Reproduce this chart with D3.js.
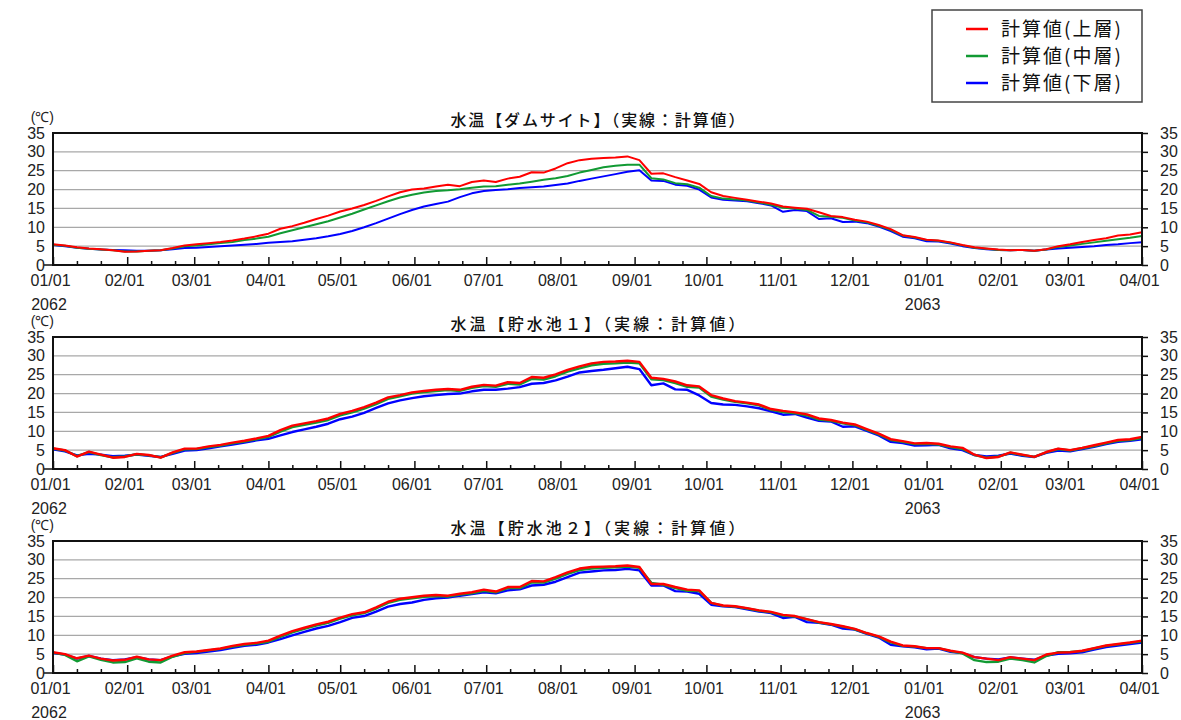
<!DOCTYPE html>
<html>
<head>
<meta charset="utf-8">
<script src="https://cdn.jsdelivr.net/npm/d3@7"></script>
<style>
  html, body { margin: 0; padding: 0; background: #fff; }
  svg { display: block; }
  .num { font-family: "Liberation Sans", Arial, sans-serif; font-size: 16px; fill: #222; }
  .jp { font-family: "Noto Sans CJK JP", sans-serif; fill: #111; }
</style>
</head>
<body>
<svg id="chart" width="1181" height="720"></svg>
<script>
// Sampling: one value every 5 days from 2062-01-01 through 2063-04-01
const startDate = Date.UTC(2062, 0, 1);
const endDate = Date.UTC(2063, 3, 1);
const stepDays = 5;

const seriesNames = ["計算値(上層)", "計算値(中層)", "計算値(下層)"];
const seriesColors = ["#ff0000", "#119a33", "#0000ff"];
const panelTitles = [
  "水温【ダムサイト】（実線：計算値）",
  "水温【貯水池１】（実線：計算値）",
  "水温【貯水池２】（実線：計算値）"
];
const yTicks = [0, 5, 10, 15, 20, 25, 30, 35];
const yearLabels = [{ date: Date.UTC(2062, 0, 1), text: "2062" }, { date: Date.UTC(2063, 0, 1), text: "2063" }];

// ダムサイト
const damUpper = [5.5,5.2,4.7,4.4,4.2,3.9,3.5,3.6,3.8,3.9,4.5,5.2,5.5,5.8,6.1,6.5,7.0,7.6,8.3,9.6,
  10.3,11.2,12.2,13.1,14.2,15.0,15.9,17.0,18.2,19.3,20.0,20.3,20.8,21.3,20.9,22.0,22.4,22.0,22.9,23.4,
  24.6,24.5,25.6,27.0,27.8,28.2,28.4,28.5,28.8,27.8,24.2,24.3,23.3,22.4,21.5,19.3,18.3,17.8,17.3,16.8,
  16.3,15.5,15.2,14.9,14.0,13.0,12.7,12.0,11.5,10.6,9.5,7.9,7.4,6.7,6.5,6.0,5.3,4.7,4.4,4.1,
  3.9,4.0,3.8,4.2,5.0,5.5,6.1,6.6,7.1,7.8,8.1,8.7];
const damMiddle = [5.4,5.1,4.6,4.3,4.1,3.9,3.6,3.6,3.8,3.9,4.4,5.0,5.2,5.5,5.8,6.1,6.6,7.0,7.5,8.4,
  9.2,10.0,10.8,11.6,12.6,13.6,14.7,15.8,16.9,17.9,18.6,19.2,19.6,19.8,20.1,20.5,20.8,20.9,21.3,21.6,
  22.1,22.6,23.0,23.6,24.5,25.2,25.9,26.3,26.6,26.6,23.0,22.7,21.7,21.4,20.5,18.3,17.6,17.4,17.1,16.6,
  16.0,15.2,15.0,14.6,13.0,12.8,12.5,11.8,11.3,10.4,9.3,7.8,7.3,6.6,6.4,5.9,5.2,4.6,4.3,4.0,
  3.9,4.0,3.8,4.1,4.8,5.2,5.6,6.0,6.4,6.8,7.2,7.7];
const damLower = [5.3,5.0,4.6,4.3,4.1,4.0,3.9,3.8,3.8,3.9,4.2,4.5,4.6,4.8,5.0,5.2,5.4,5.6,5.9,6.1,
  6.3,6.7,7.1,7.6,8.2,9.0,10.0,11.1,12.3,13.5,14.6,15.5,16.2,16.8,18.0,19.0,19.6,19.9,20.1,20.4,
  20.6,20.8,21.2,21.6,22.3,22.9,23.5,24.1,24.7,25.1,22.4,22.3,21.3,21.0,20.0,17.9,17.3,17.1,16.9,16.4,
  15.8,14.1,14.6,14.3,12.2,12.4,11.4,11.5,11.1,10.2,9.0,7.5,7.1,6.3,6.2,5.7,5.0,4.5,4.2,4.0,
  3.9,4.0,3.8,4.1,4.4,4.6,4.8,5.0,5.3,5.5,5.8,6.0];

// 貯水池１
const res1Upper = [5.5,5.0,3.3,4.6,3.8,3.0,3.2,4.0,3.7,3.0,4.4,5.4,5.4,6.0,6.4,7.0,7.5,8.1,8.8,10.3,
  11.5,12.1,12.7,13.4,14.6,15.4,16.4,17.6,19.0,19.6,20.3,20.7,21.0,21.2,21.0,21.8,22.3,22.1,23.0,22.8,
  24.4,24.2,25.1,26.3,27.2,28.0,28.4,28.5,28.7,28.4,24.2,23.9,23.2,22.2,21.9,19.6,18.7,18.0,17.6,17.1,
  15.9,15.4,15.0,14.5,13.4,13.0,12.3,11.8,10.6,9.4,7.9,7.4,6.8,6.9,6.7,6.0,5.6,3.8,2.9,3.2,
  4.4,3.8,3.2,4.5,5.4,5.0,5.6,6.3,7.0,7.7,7.9,8.5];
const res1Middle = [5.4,4.9,3.4,4.5,3.7,3.1,3.3,3.9,3.6,3.1,4.3,5.2,5.3,5.8,6.2,6.8,7.3,7.9,8.5,9.9,
  11.1,11.7,12.3,13.0,14.2,15.0,16.0,17.2,18.6,19.3,20.0,20.4,20.7,20.9,20.7,21.5,22.0,21.8,22.6,22.4,
  23.9,23.7,24.6,25.8,26.7,27.5,27.9,28.0,28.2,28.0,23.8,23.6,22.8,21.8,21.6,19.2,18.4,17.8,17.4,16.9,
  15.7,15.1,14.8,14.2,13.1,12.8,12.1,11.6,10.4,9.2,7.7,7.2,6.6,6.7,6.5,5.8,5.3,3.7,3.0,3.3,
  4.3,3.7,3.2,4.4,5.3,4.9,5.5,6.1,6.8,7.5,7.7,8.2];
const res1Lower = [5.2,4.7,3.6,4.0,3.8,3.4,3.5,3.8,3.5,3.2,4.0,4.9,5.0,5.5,6.0,6.5,7.0,7.6,8.0,8.9,
  9.8,10.5,11.2,12.0,13.2,13.9,14.9,16.2,17.4,18.2,18.8,19.3,19.6,19.9,20.0,20.6,21.0,21.0,21.3,21.7,
  22.6,22.8,23.5,24.5,25.6,26.0,26.3,26.7,27.1,26.5,22.2,22.7,21.1,21.0,19.5,17.5,17.1,17.0,16.6,16.1,
  15.3,14.4,14.6,13.6,12.8,12.6,11.2,11.3,10.1,8.9,7.2,6.9,6.2,6.3,6.4,5.5,5.0,3.7,3.3,3.5,
  4.1,3.5,3.2,4.3,4.9,4.7,5.3,5.9,6.6,7.2,7.5,7.9];

// 貯水池２
const res2Upper = [5.5,5.0,3.9,4.6,3.8,3.3,3.5,4.3,3.6,3.4,4.6,5.5,5.7,6.1,6.5,7.2,7.7,8.0,8.6,9.9,
  11.1,12.0,12.9,13.6,14.7,15.6,16.1,17.4,18.9,19.7,20.1,20.5,20.7,20.5,21.0,21.4,22.1,21.6,22.8,22.8,
  24.4,24.3,25.4,26.7,27.7,28.1,28.2,28.3,28.5,28.1,23.6,23.6,22.8,22.1,21.9,18.6,17.9,17.7,17.2,16.6,
  16.2,15.4,15.1,14.3,13.5,13.0,12.4,11.7,10.6,9.7,8.3,7.3,7.1,6.6,6.6,5.9,5.4,4.2,3.8,3.4,
  4.2,3.8,3.4,4.9,5.4,5.5,5.9,6.6,7.3,7.7,8.1,8.6];
const res2Middle = [5.4,4.8,3.1,4.4,3.5,2.8,2.9,3.9,3.0,2.8,4.3,5.3,5.6,6.0,6.4,7.0,7.5,7.8,8.3,9.6,
  10.8,11.7,12.6,13.3,14.4,15.3,15.9,17.1,18.6,19.4,19.8,20.2,20.4,20.3,20.8,21.1,21.8,21.4,22.5,22.5,
  24.0,24.0,25.0,26.3,27.3,27.7,27.9,28.0,28.2,27.9,23.9,23.4,22.5,21.8,21.7,18.6,17.8,17.6,17.1,16.5,
  16.1,15.2,15.0,14.2,13.4,12.9,12.3,11.6,10.5,9.6,8.1,7.2,7.0,6.6,6.6,5.8,5.2,3.4,2.9,3.0,
  3.8,3.4,2.8,4.5,5.5,5.6,5.8,6.5,7.2,7.6,8.0,8.4];
const res2Lower = [5.3,4.9,3.8,4.5,3.8,3.4,3.6,4.2,3.6,3.4,4.4,5.1,5.3,5.7,6.1,6.7,7.2,7.5,8.1,9.0,
  10.0,10.9,11.8,12.5,13.5,14.6,15.1,16.3,17.6,18.3,18.7,19.4,19.8,20.0,20.5,20.9,21.4,21.1,21.9,22.2,
  23.2,23.4,24.2,25.4,26.6,26.9,27.2,27.3,27.6,27.2,23.2,23.2,21.7,21.6,21.0,18.1,17.7,17.5,16.9,16.3,
  15.9,14.6,14.9,13.5,13.3,12.8,11.8,11.5,10.4,9.4,7.5,7.1,6.8,6.3,6.5,5.6,5.3,4.2,3.8,3.6,
  4.1,3.8,3.5,4.6,5.1,5.2,5.5,6.2,6.9,7.3,7.7,8.1];

const panelSeries = [
  [damUpper, damMiddle, damLower],
  [res1Upper, res1Middle, res1Lower],
  [res2Upper, res2Middle, res2Lower]
];

// ---- layout ----
const plotLeft = 53, plotRight = 1142;
const panelTops = [133, 337, 541];
const plotHeight = 132;
const dayMs = 86400000;

const svg = d3.select("#chart");
const x = d3.scaleUtc().domain([startDate, endDate]).range([plotLeft, plotRight]);

function sampleDate(i) { return new Date(startDate + i * stepDays * dayMs); }

panelTops.forEach((top, p) => {
  const bottom = top + plotHeight;
  const y = d3.scaleLinear().domain([0, 35]).range([bottom, top]);
  const g = svg.append("g");

  // horizontal grid
  g.selectAll("line.grid").data(yTicks.filter(t => t > 0 && t < 35)).join("line")
    .attr("x1", plotLeft).attr("x2", plotRight)
    .attr("y1", d => y(d)).attr("y2", d => y(d))
    .attr("stroke", "#a8a8a8").attr("stroke-width", 1.2);

  // series lines: lower layer drawn first, upper layer on top
  const line = d3.line().x((d, i) => x(sampleDate(i))).y(d => y(d)).curve(d3.curveLinear);
  [2, 1, 0].forEach(s => {
    g.append("path").datum(panelSeries[p][s])
      .attr("fill", "none").attr("stroke", seriesColors[s])
      .attr("stroke-width", p === 0 ? 2 : 2.4).attr("stroke-linejoin", "round")
      .attr("d", line);
  });

  // frame
  g.append("rect").attr("x", plotLeft).attr("y", top)
    .attr("width", plotRight - plotLeft).attr("height", plotHeight)
    .attr("fill", "none").attr("stroke", "#111").attr("stroke-width", 2);
  // short extension of the zero line on the left
  g.append("line").attr("x1", plotLeft - 9).attr("x2", plotLeft)
    .attr("y1", bottom).attr("y2", bottom).attr("stroke", "#111").attr("stroke-width", 1.5);

  // month ticks (inside) with labels
  const xAxis = d3.axisBottom(x).ticks(d3.utcMonth.every(1))
    .tickFormat(d3.utcFormat("%m/%d")).tickSizeInner(-8).tickSizeOuter(0).tickPadding(10);
  const xg = g.append("g").attr("transform", `translate(0,${bottom})`).call(xAxis);
  xg.select(".domain").remove();
  xg.selectAll(".tick line").attr("stroke", "#111").attr("stroke-width", 1.5);
  xg.selectAll(".tick text").attr("class", "num").attr("dx", -3).style("font-size", "16px")
    .attr("font-family", null).attr("fill", "#222");

  // minor ticks on the 11th and 21st
  const minorDays = d3.utcDay.range(new Date(startDate), new Date(endDate))
    .filter(d => d.getUTCDate() === 11 || d.getUTCDate() === 21);
  const xMinor = d3.axisBottom(x).tickValues(minorDays).tickFormat("").tickSizeInner(-4).tickSizeOuter(0);
  const xm = g.append("g").attr("transform", `translate(0,${bottom})`).call(xMinor);
  xm.select(".domain").remove();
  xm.selectAll(".tick line").attr("stroke", "#111").attr("stroke-width", 1.5);

  // year labels
  g.selectAll("text.year").data(yearLabels).join("text")
    .attr("class", "num").attr("text-anchor", "middle")
    .attr("x", d => x(new Date(d.date)) - 4).attr("y", bottom + 45)
    .text(d => d.text);

  // left axis labels
  const yl = g.append("g").attr("transform", `translate(${plotLeft},0)`)
    .call(d3.axisLeft(y).tickValues(yTicks).tickSize(0).tickPadding(8));
  yl.select(".domain").remove();
  yl.selectAll(".tick text").attr("class", "num").attr("font-family", null).style("font-size", "16px");

  // right axis with outward ticks
  const yr = g.append("g").attr("transform", `translate(${plotRight},0)`)
    .call(d3.axisRight(y).tickValues(yTicks).tickSize(6).tickPadding(12));
  yr.select(".domain").remove();
  yr.selectAll(".tick line").attr("stroke", "#111").attr("stroke-width", 1.5);
  yr.selectAll(".tick text").attr("class", "num").attr("font-family", null).style("font-size", "16px");

  // unit, tucked just above the top tick label
  g.append("text").attr("class", "num").attr("x", plotLeft + 1).attr("y", top - 11)
    .attr("text-anchor", "end").style("font-size", "14px").text("(℃)");

  // title
  g.append("text").attr("class", "jp")
    .attr("x", (plotLeft + plotRight) / 2).attr("y", top - 7)
    .attr("text-anchor", "middle").style("font-size", "16px").style("font-weight", "500")
    .attr("textLength", 294).attr("lengthAdjust", "spacing")
    .text(panelTitles[p]);
});

// legend
const legend = svg.append("g");
legend.append("rect").attr("x", 932).attr("y", 10).attr("width", 210).attr("height", 92)
  .attr("fill", "#fff").attr("stroke", "#444").attr("stroke-width", 1.5);
const rowY = [29, 56, 83];
seriesNames.forEach((name, i) => {
  legend.append("line").attr("x1", 966).attr("x2", 988)
    .attr("y1", rowY[i]).attr("y2", rowY[i])
    .attr("stroke", seriesColors[i]).attr("stroke-width", 2.5);
  legend.append("text").attr("class", "jp").attr("x", 1001).attr("y", rowY[i])
    .attr("dy", "0.36em").style("font-size", "19px")
    .attr("textLength", 120).attr("lengthAdjust", "spacing")
    .text(name);
});
</script>
</body>
</html>
